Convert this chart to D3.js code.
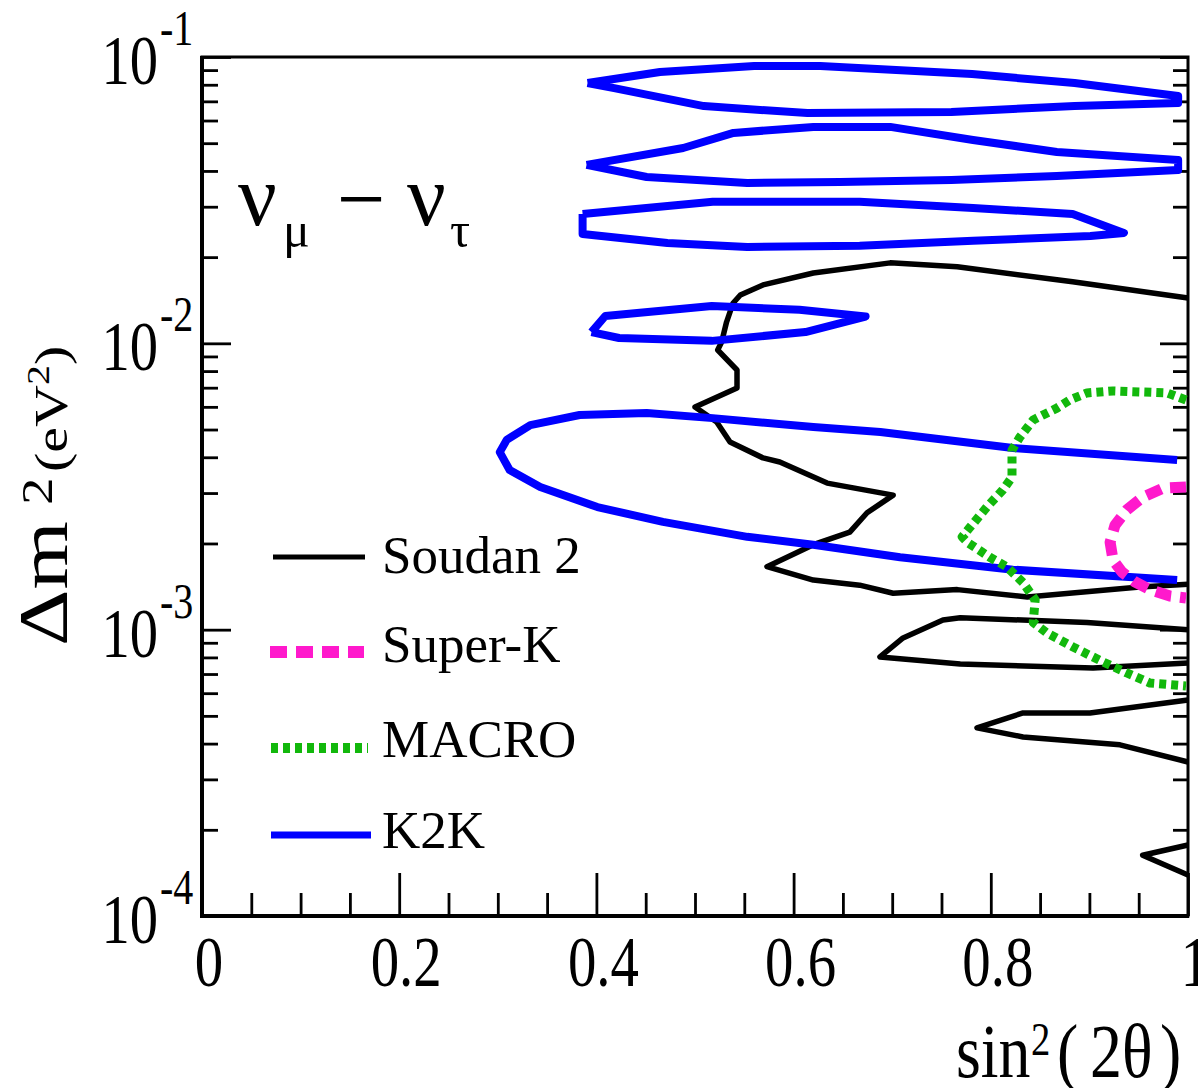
<!DOCTYPE html>
<html>
<head>
<meta charset="utf-8">
<script src="https://cdn.jsdelivr.net/npm/d3@7"></script>
<style>
  body { margin: 0; background: #fff; }
  svg { display: block; }
  text { font-family: "Liberation Serif", "Times New Roman", serif; fill: #000; }
</style>
</head>
<body>
<svg id="chart" width="1198" height="1088"></svg>
<script>
// contours, [sin^2(2theta), dm^2 in eV^2]
var soudanMain = [[1.0,0.0144],[0.883,0.0164],[0.766,0.0185],[0.698,0.0191],[0.620,0.0176],[0.569,0.0160],
  [0.546,0.01475],[0.5385,0.0138],[0.532,0.01187],[0.527,0.0101],[0.523,0.00948],[0.5426,0.00807],
  [0.5426,0.00698],[0.500,0.00599],[0.522,0.00531],[0.5355,0.00452],[0.569,0.00398],[0.586,0.00385],
  [0.634,0.00325],[0.701,0.00295],[0.6745,0.00256],[0.657,0.00219],[0.620,0.00198],[0.573,0.00166],
  [0.620,0.00149],[0.667,0.00143],[0.701,0.00134],[0.766,0.00138],[0.837,0.00130],[0.951,0.00141],[1.0,0.00144]];
var soudanB = [[1.0,0.001],[0.8976,0.00106],[0.769,0.0011],[0.7515,0.00108],[0.711,0.000936],[0.6876,0.000803],
  [0.769,0.000759],[0.9037,0.000735],[1.0,0.000765]];
var soudanC = [[1.0,0.000568],[0.9006,0.000512],[0.8327,0.000512],[0.786,0.000454],[0.8327,0.000422],
  [0.931,0.000396],[1.0,0.000345]];
var soudanD = [[1.0,0.000177],[0.954,0.000163],[1.0,0.000139]];

var k2kA = [[0.391,0.0811],[0.4645,0.0886],[0.560,0.0930],[0.627,0.0930],[0.781,0.0872],[0.885,0.0811],
  [0.99,0.0731],[0.99,0.0691],[0.885,0.0674],[0.760,0.0643],[0.614,0.0637],[0.509,0.0674],[0.418,0.0779],[0.391,0.0811]];
var k2kB = [[0.390,0.0420],[0.488,0.0481],[0.539,0.0543],[0.620,0.0570],[0.698,0.0570],[0.782,0.0513],
  [0.867,0.0466],[0.99,0.0437],[0.99,0.0403],[0.867,0.0384],[0.760,0.0372],[0.647,0.0366],[0.553,0.0363],
  [0.451,0.0381],[0.390,0.0420]];
var k2kC = [[0.386,0.0283],[0.518,0.0312],[0.667,0.0312],[0.782,0.0297],[0.883,0.0283],[0.935,0.0243],
  [0.901,0.0237],[0.782,0.0228],[0.667,0.0219],[0.553,0.0217],[0.472,0.0224],[0.386,0.0241],[0.386,0.0283]];
var k2kD = [[0.395,0.01095],[0.409,0.01246],[0.517,0.0135],[0.606,0.0131],[0.673,0.0124],[0.612,0.01095],
  [0.517,0.0102],[0.423,0.01044],[0.395,0.01095]];
var k2kE = [[0.989,0.00391],[0.8225,0.00431],[0.688,0.00490],[0.620,0.00510],[0.518,0.00548],[0.451,0.00571],
  [0.383,0.00562],[0.333,0.00518],[0.309,0.00460],[0.302,0.00417],[0.312,0.00361],[0.343,0.00315],
  [0.401,0.00268],[0.4675,0.00238],[0.553,0.00211],[0.620,0.00198],[0.708,0.00179],[0.8225,0.00162],[0.989,0.00149]];

var macro = [[0.998,0.00634],[0.9787,0.00671],[0.924,0.00682],[0.8976,0.00671],[0.880,0.00634],[0.867,0.00594],
  [0.843,0.0054],[0.8296,0.00471],[0.8215,0.00424],[0.8215,0.00341],[0.812,0.00307],[0.796,0.00268],
  [0.779,0.00228],[0.771,0.00211],[0.777,0.00201],[0.799,0.00179],[0.816,0.00166],[0.8327,0.00146],
  [0.845,0.00127],[0.843,0.00106],[0.857,0.000974],[0.8834,0.00087],[0.914,0.000771],[0.938,0.000706],
  [0.9615,0.000651],[0.998,0.000636]];
var superK = [[0.998,0.00315],[0.9746,0.00312],[0.954,0.0029],[0.938,0.00262],[0.926,0.00232],[0.921,0.00202],
  [0.924,0.00175],[0.933,0.00159],[0.946,0.00147],[0.9615,0.00138],[0.9817,0.00131],[0.998,0.00129]];

var xMajor = [0, 0.2, 0.4, 0.6, 0.8, 1];
var xLabels = ['0', '0.2', '0.4', '0.6', '0.8', '1'];
var yMajor = [1e-1, 1e-2, 1e-3, 1e-4];
var yExp = ['-1', '-2', '-3', '-4'];
var legendNames = ['Soudan 2', 'Super-K', 'MACRO', 'K2K'];

var svg = d3.select('#chart');
var x = d3.scaleLinear().domain([0, 1]).range([202, 1188]);
var y = d3.scaleLog().domain([1e-4, 1e-1]).range([916, 57]);

var xMinor = d3.range(1, 20).map(function(i) { return i * 0.05; })
  .filter(function(v) { return Math.abs(v * 5 - Math.round(v * 5)) > 1e-6; });
var yMinor = [];
[1e-4, 1e-3, 1e-2].forEach(function(d) {
  for (var k = 2; k <= 9; k++) yMinor.push(k * d);
});

function tickAxis(axis, tx, ty) {
  var g = svg.append('g').attr('transform', 'translate(' + tx + ',' + ty + ')').call(axis);
  g.select('.domain').remove();
  g.selectAll('line').attr('stroke', '#000').attr('stroke-width', 2.8);
  g.selectAll('text').remove();
}

// ticks, all pointing inside
tickAxis(d3.axisBottom(x).tickValues(xMajor).tickSize(-43), 0, 916);
tickAxis(d3.axisBottom(x).tickValues(xMinor).tickSize(-23), 0, 916);
tickAxis(d3.axisLeft(y).tickValues(yMajor).tickSize(-29), 202, 0);
tickAxis(d3.axisLeft(y).tickValues(yMinor).tickSize(-16), 202, 0);
tickAxis(d3.axisRight(y).tickValues(yMajor).tickSize(-28), 1188, 0);
tickAxis(d3.axisRight(y).tickValues(yMinor).tickSize(-15), 1188, 0);

// frame
svg.append('rect').attr('x', 202).attr('y', 57).attr('width', 986).attr('height', 859)
  .attr('fill', 'none').attr('stroke', '#000').attr('stroke-width', 3);
svg.append('line').attr('x1', 202).attr('x2', 202).attr('y1', 56).attr('y2', 918)
  .attr('stroke', '#000').attr('stroke-width', 4);
svg.append('line').attr('x1', 200).attr('x2', 1189).attr('y1', 916).attr('y2', 916)
  .attr('stroke', '#000').attr('stroke-width', 4);

var line = d3.line().x(function(d) { return x(d[0]); }).y(function(d) { return y(d[1]); });

function contour(data, color, width, dash) {
  var p = svg.append('path').datum(data).attr('d', line)
    .attr('fill', 'none').attr('stroke', color).attr('stroke-width', width)
    .attr('stroke-linejoin', 'round');
  if (dash) p.attr('stroke-dasharray', dash);
  return p;
}

var colors = { soudan: '#000', superk: '#ff19cc', macro: '#12b80c', k2k: '#0000ff' };

[soudanMain, soudanB, soudanC, soudanD].forEach(function(c) { contour(c, colors.soudan, 5.5); });
[k2kA, k2kB, k2kC, k2kD, k2kE].forEach(function(c) { contour(c, colors.k2k, 8); });
contour(macro, colors.macro, 9, '7,5');
contour(superK, colors.superk, 11, '16,9');

// text helper: condensed serif like the original
function put(str, px, py, size, sx, anchor) {
  return svg.append('text')
    .attr('transform', 'translate(' + px + ',' + py + ') scale(' + (sx || 1) + ',1)')
    .attr('text-anchor', anchor || 'start')
    .style('font-size', size + 'px')
    .text(str);
}

// x tick labels
xMajor.forEach(function(v, i) {
  put(xLabels[i], x(v) + 7, 986, 71, 0.8, 'middle');
});
// y tick labels
yMajor.forEach(function(v, i) {
  put('10', 158, y(v) + 27, 69, 0.82, 'end');
  put(yExp[i], 160, y(v) - 12, 50, 0.8, 'start');
});

// x title
put('sin', 956, 1077, 76, 0.84);
put('2', 1031, 1055, 46, 0.84);
put('(', 1057, 1077, 76, 0.84);
put('2\u03b8', 1090, 1077, 76, 0.84);
put(')', 1160, 1077, 76, 0.84);

// y title
var yl = svg.append('g').attr('transform', 'translate(67,646) scale(0.8,1) rotate(-90)');
yl.append('text').attr('x', 0).attr('y', 0).style('font-size', '88px').text('\u0394m');
yl.append('text').attr('x', 141).attr('y', -19).style('font-size', '55px').text('2');
yl.append('text').attr('x', 174).attr('y', 0).style('font-size', '58px').text('(eV');
yl.append('text').attr('x', 261).attr('y', -22).style('font-size', '40px').text('2');
yl.append('text').attr('x', 281).attr('y', 0).style('font-size', '58px').text(')');

// channel label
put('\u03bd', 238, 225, 86);
put('\u03bc', 283, 247, 50);
put('\u2212', 337, 228, 86);
put('\u03bd', 407, 225, 86);
put('\u03c4', 450, 247, 50);

// legend
var legendStyle = [
  { color: colors.soudan, width: 5, dash: null, x1: 273, x2: 365, y: 557, base: 573 },
  { color: colors.superk, width: 12, dash: '17,9', x1: 270, x2: 364, y: 652, base: 662 },
  { color: colors.macro, width: 10, dash: '7,5', x1: 271, x2: 368, y: 748, base: 757 },
  { color: colors.k2k, width: 7, dash: null, x1: 271, x2: 371, y: 835, base: 848 }
];
legendStyle.forEach(function(s, i) {
  var l = svg.append('line').attr('x1', s.x1).attr('x2', s.x2).attr('y1', s.y).attr('y2', s.y)
    .attr('stroke', s.color).attr('stroke-width', s.width);
  if (s.dash) l.attr('stroke-dasharray', s.dash);
  put(legendNames[i], 382, s.base, 53);
});
</script>
</body>
</html>
